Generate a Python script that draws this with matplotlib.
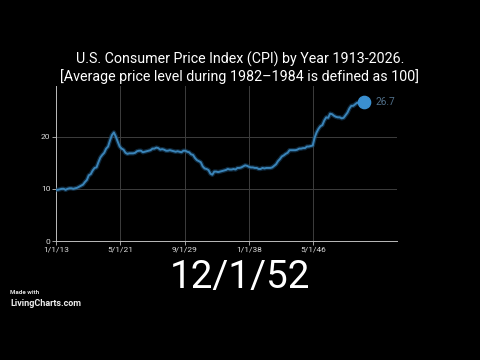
import matplotlib
matplotlib.use("Agg")
import matplotlib.pyplot as plt
import matplotlib.patheffects as pe
import pandas as pd

plt.rcParams['font.family'] = ['Roboto', 'DejaVu Sans']

title = "U.S. Consumer Price Index (CPI) by Year 1913-2026.\n[Average price level during 1982\u20131984 is defined as 100]"
current_label = "12/1/52"
tick_dates = ["1913-01-01", "1921-05-01", "1929-09-01", "1938-01-01", "1946-05-01"]
tick_labels = ["1/1/13", "5/1/21", "9/1/29", "1/1/38", "5/1/46"]
y_ticks = [0, 10, 20]

# quarterly CPI readings (Jan, Apr, Jul, Oct) 1913-1952, then Dec 1952
cpi = [
    9.8, 9.8, 9.9, 10.0,
    10.0, 9.8, 10.0, 10.1,
    10.1, 10.0, 10.1, 10.2,
    10.4, 10.6, 10.8, 11.3,
    11.7, 12.6, 12.8, 13.5,
    14.0, 14.1, 15.1, 16.0,
    16.5, 16.9, 17.7, 18.1,
    19.3, 20.3, 20.8, 20.0,
    19.0, 18.1, 17.7, 17.5,
    16.9, 16.7, 16.8, 16.8,
    16.8, 16.9, 17.2, 17.3,
    17.3, 17.0, 17.1, 17.2,
    17.3, 17.4, 17.7, 17.7,
    17.9, 17.8, 17.5, 17.6,
    17.5, 17.3, 17.3, 17.4,
    17.3, 17.2, 17.1, 17.2,
    17.1, 17.0, 17.3, 17.3,
    17.1, 17.0, 16.6, 16.5,
    15.9, 15.5, 15.3, 15.1,
    14.3, 13.9, 13.8, 13.6,
    12.9, 12.7, 13.3, 13.3,
    13.2, 13.3, 13.4, 13.5,
    13.6, 13.8, 13.7, 13.7,
    13.8, 13.7, 14.0, 14.0,
    14.1, 14.3, 14.5, 14.4,
    14.2, 14.1, 14.1, 14.0,
    14.0, 13.8, 13.8, 14.0,
    13.9, 14.0, 14.0, 14.0,
    14.1, 14.4, 14.7, 15.3,
    15.7, 16.2, 16.4, 16.7,
    16.9, 17.4, 17.4, 17.4,
    17.4, 17.5, 17.7, 17.7,
    17.8, 17.8, 18.1, 18.1,
    18.2, 18.3, 19.8, 20.8,
    21.5, 22.0, 22.2, 23.1,
    23.7, 23.6, 24.4, 24.3,
    24.0, 23.8, 23.7, 23.7,
    23.5, 23.6, 24.1, 24.6,
    25.4, 25.9, 25.9, 26.2,
    26.5, 26.4, 26.7, 26.7,
    26.7,
]
dates = list(pd.date_range("1913-01-01", periods=len(cpi) - 1, freq="QS")) + [pd.Timestamp("1952-12-01")]

fig = plt.figure(figsize=(4.8, 3.6), dpi=100, facecolor="black")
ax = fig.add_axes([56/480, 1 - 241/360, (397 - 56)/480, (241 - 86)/360])
ax.set_facecolor("black")

line_color = "#3a84b8"
ax.plot(dates, cpi, color=line_color, lw=1.4, zorder=3,
        path_effects=[pe.Stroke(linewidth=3.2, foreground="#1b4a6e", alpha=0.55), pe.Normal()])
ax.scatter([dates[-1]], [cpi[-1]], s=78, color="#3a8fd0", zorder=4)
ax.annotate(f"{cpi[-1]:.1f}", (dates[-1], cpi[-1]), xytext=(8, 0), textcoords="offset points",
            va="center", ha="left", color="#4f6e88", fontsize=7.3)

ax.set_xlim(pd.Timestamp("1913-01-01"), pd.Timestamp("1957-03-01"))
ax.set_ylim(0, 29.7)
ax.set_xticks([pd.Timestamp(d) for d in tick_dates])
ax.set_xticklabels(tick_labels)
ax.set_yticks(y_ticks)
ax.tick_params(labelsize=6, length=3, width=0.6, pad=1, colors="#bbbbbb", labelcolor="#dddddd")
ax.grid(True, color="#3d3d3d", lw=0.7)
for s in ["top", "right"]:
    ax.spines[s].set_visible(False)
for s in ["left", "bottom"]:
    ax.spines[s].set_color("#bbbbbb")
    ax.spines[s].set_linewidth(0.7)

fig.text(0.5, 1 - 68/360, title, ha="center", va="center", color="white", fontsize=10.3, linespacing=1.2)
fig.text(0.5, 1 - 278/360, current_label, ha="center", va="center", color="white", fontsize=27.8)
fig.text(10/480, 1 - 293/360, "Made with", ha="left", va="center", color="#dddddd", fontsize=4.5, fontweight="bold")
fig.text(10/480, 1 - 303/360, "LivingCharts.com", ha="left", va="center", color="#eeeeee", fontsize=6.5, fontweight="bold")

fig.savefig("out.png", dpi=100, facecolor="black")
